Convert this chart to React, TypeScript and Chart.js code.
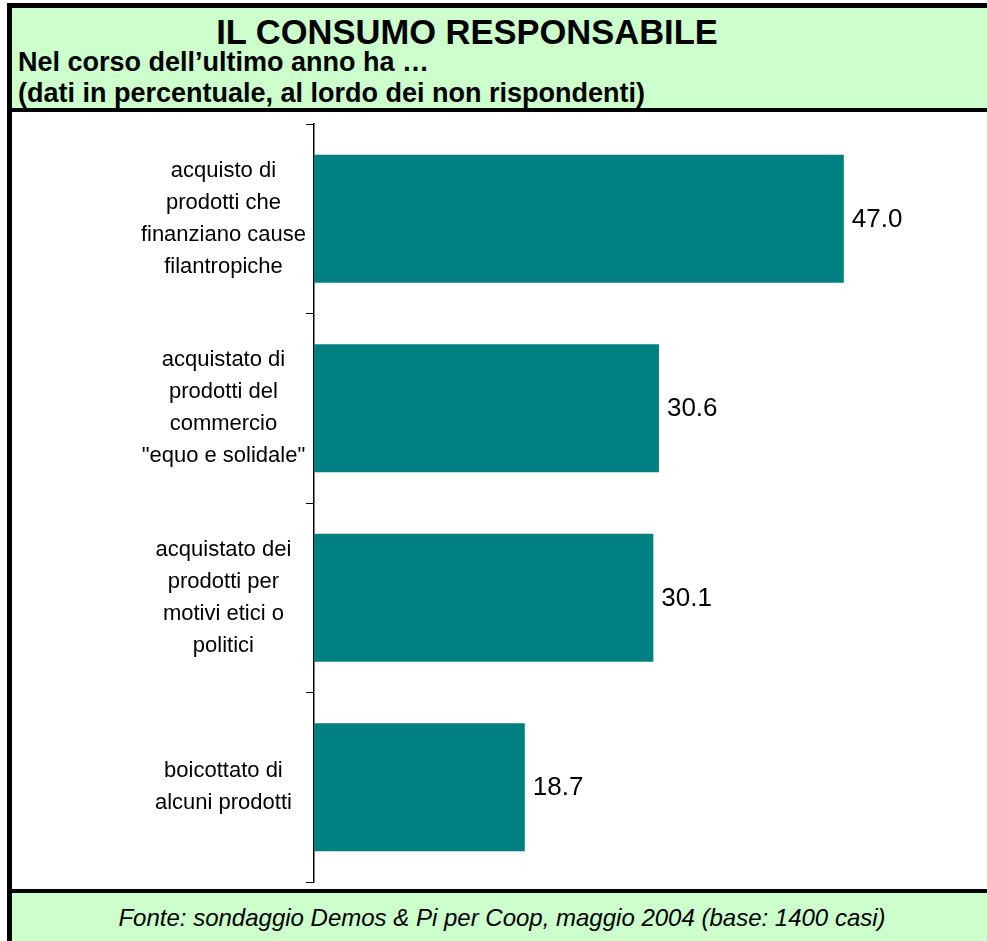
import React, { useEffect, useRef } from "react";
import { Chart, registerables } from "chart.js";

Chart.register(...registerables);

const titleText = "IL CONSUMO RESPONSABILE";
const subtitle1 = "Nel corso dell’ultimo anno ha …";
const subtitle2 = "(dati in percentuale, al lordo dei non rispondenti)";
const footerText = "Fonte: sondaggio Demos & Pi per Coop, maggio 2004 (base: 1400 casi)";

const categories: string[][] = [
  ["acquisto di", "prodotti che", "finanziano cause", "filantropiche"],
  ["acquistato di", "prodotti del", "commercio", "\"equo e solidale\""],
  ["acquistato dei", "prodotti per", "motivi etici o", "politici"],
  ["boicottato di", "alcuni prodotti"],
];
const values: number[] = [47.0, 30.6, 30.1, 18.7];
const axisMax = 59.7;

const FONT = "'Liberation Sans', Arial, Helvetica, sans-serif";
const GREEN = "#CCFFCC";
const TEAL = "#008080";

const valueLabels = {
  id: "valueLabels",
  afterDatasetsDraw(chart: any) {
    const ctx = chart.ctx;
    const meta = chart.getDatasetMeta(0);
    ctx.save();
    ctx.font = `26px ${FONT}`;
    ctx.fillStyle = "#000";
    ctx.textAlign = "left";
    ctx.textBaseline = "middle";
    meta.data.forEach((bar: any, i: number) => {
      const v = chart.data.datasets[0].data[i] as number;
      ctx.fillText(v.toFixed(1), bar.x + 8, bar.y + 1);
    });
    ctx.restore();
  },
};

function BarChart() {
  const ref = useRef<HTMLCanvasElement | null>(null);
  useEffect(() => {
    if (!ref.current) return;
    const chart = new Chart(ref.current, {
      type: "bar",
      data: {
        labels: categories,
        datasets: [
          {
            data: values,
            backgroundColor: TEAL,
            borderWidth: 0,
            categoryPercentage: 1,
            barPercentage: 0.675,
          },
        ],
      },
      options: {
        indexAxis: "y",
        animation: false,
        responsive: false,
        maintainAspectRatio: false,
        layout: { padding: { top: 12, bottom: 7, left: 0, right: 0 } },
        plugins: {
          legend: { display: false },
          tooltip: { enabled: false },
          title: { display: false },
        },
        scales: {
          x: {
            display: false,
            min: 0,
            max: axisMax,
          },
          y: {
            type: "category",
            offset: true,
            afterFit(scale: any) {
              scale.width = 302;
              scale.paddingTop = 0;
              scale.paddingBottom = 0;
            },
            grid: {
              display: true,
              drawOnChartArea: false,
              drawTicks: true,
              tickLength: 8,
              offset: true,
              color: "#000",
              lineWidth: 1,
            },
            border: { display: true, color: "#000", width: 1.5 },
            ticks: {
              color: "#000",
              font: { family: FONT, size: 22, lineHeight: 1.45 },
              crossAlign: "center",
              padding: 0,
              autoSkip: false,
            },
          },
        },
      },
      plugins: [valueLabels],
    });
    return () => chart.destroy();
  }, []);
  return (
    <canvas
      ref={ref}
      width={975}
      height={777}
      style={{ position: "absolute", left: 12, top: 112, width: 975, height: 777 }}
    />
  );
}

export default function App() {
  return (
    <div
      style={{
        position: "fixed",
        left: 0,
        top: 0,
        width: 987,
        height: 941,
        overflow: "hidden",
        background: "#fff",
        fontFamily: FONT,
      }}
    >
      {/* frame */}
      <div style={{ position: "absolute", left: 7, top: 3, width: 5, height: 960, background: "#000" }} />
      <div style={{ position: "absolute", left: 7, top: 3, width: 1000, height: 5, background: "#000" }} />
      {/* header */}
      <div style={{ position: "absolute", left: 12, top: 8, width: 1000, height: 100, background: GREEN }} />
      <div
        style={{
          position: "absolute",
          left: 0,
          width: 934,
          top: 12,
          lineHeight: "40px",
          textAlign: "center",
          fontWeight: "bold",
          fontSize: 34.5,
          color: "#000",
          whiteSpace: "nowrap",
        }}
      >
        {titleText}
      </div>
      <div
        style={{
          position: "absolute",
          left: 18,
          top: 46,
          lineHeight: "32px",
          fontWeight: "bold",
          fontSize: 27,
          color: "#000",
          whiteSpace: "nowrap",
        }}
      >
        {subtitle1}
      </div>
      <div
        style={{
          position: "absolute",
          left: 18,
          top: 77,
          lineHeight: "32px",
          fontWeight: "bold",
          fontSize: 27,
          color: "#000",
          whiteSpace: "nowrap",
        }}
      >
        {subtitle2}
      </div>
      <div style={{ position: "absolute", left: 7, top: 108, width: 1000, height: 4, background: "#000" }} />
      {/* plot */}
      <BarChart />
      <div style={{ position: "absolute", left: 7, top: 889, width: 1000, height: 4, background: "#000" }} />
      {/* footer */}
      <div style={{ position: "absolute", left: 12, top: 893, width: 1000, height: 60, background: GREEN }} />
      <div
        style={{
          position: "absolute",
          left: 0,
          width: 1004,
          top: 902,
          lineHeight: "32px",
          textAlign: "center",
          fontStyle: "italic",
          fontSize: 24,
          color: "#000",
          whiteSpace: "nowrap",
        }}
      >
        {footerText}
      </div>
    </div>
  );
}
